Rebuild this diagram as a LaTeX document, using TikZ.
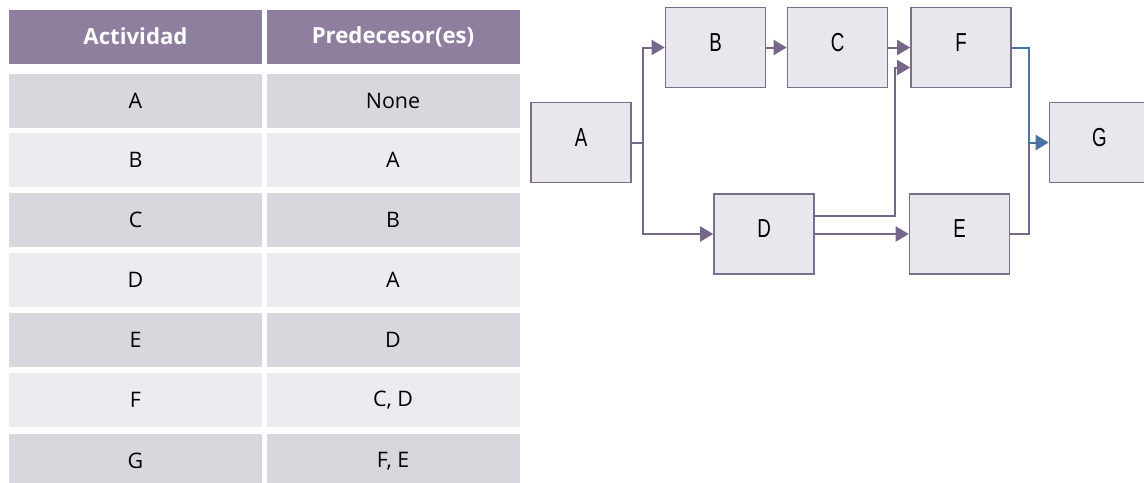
\documentclass[tikz,border=0pt]{standalone}
\usepackage{fontspec}
\setmainfont{Open Sans}
\newfontfamily\actfont[FakeStretch=0.72]{Liberation Sans}
\usetikzlibrary{arrows.meta}
\definecolor{headfill}{HTML}{8E7F9E}
\definecolor{rowdark}{HTML}{DAD6DE}
\definecolor{rowlight}{HTML}{ECEBEF}
\definecolor{boxfill}{HTML}{E9E7EE}
\definecolor{boxline}{HTML}{7B6E8C}
\definecolor{linkcol}{HTML}{75668A}
\definecolor{linkblue}{HTML}{4A72A2}
\begin{document}
\begin{tikzpicture}[x=0.5pt,y=-0.5pt,
  cell/.style={inner sep=0pt,minimum width=126.5pt,minimum height=27pt,font=\fontsize{10.7}{12}\selectfont},
  head/.style={cell,fill=headfill,text=white,font=\fontsize{11.1}{13}\selectfont\bfseries},
  act/.style={draw=boxline,line width=0.8pt,fill=boxfill,inner sep=0pt,minimum width=50pt,minimum height=40pt,
    text height=10pt,text depth=6.5pt,font=\actfont\fontsize{13}{15}\selectfont},
  link/.style={draw=linkcol,line width=1pt,-{Triangle[length=6.5pt,width=7.5pt]}},
  plain/.style={draw=linkcol,line width=1pt}]
\useasboundingbox (0,0) rectangle (1144,482);
% table of activities
\node[head] (h1) at (135.5,36.5) {Actividad};
\node[head] (h2) at (393,36.5) {Predecesor(es)};
\foreach \a/\p/\y/\c in {A/None/101/rowdark,B/A/160/rowlight,C/B/220/rowdark,D/A/280/rowlight,
                         E/D/340/rowdark,F/{C, D}/400/rowlight,G/{F, E}/461/rowdark}{
  \node[cell,fill=\c] (act-\a) at (135.5,\y) {\a};
  \node[cell,fill=\c] (pre-\a) at (393,\y) {\p};
}
% network
\node[act] (A) at (581,142.5) {A};
\node[act] (B) at (715.5,47.5) {B};
\node[act] (C) at (837.5,47.5) {C};
\node[act] (F) at (961,47.5) {F};
\node[act] (D) at (764,234) {D};
\node[act] (E) at (959.5,234) {E};
\node[act] (G) at (1099.5,142.5) {G};
\draw[link] (A.east) -- ++(11,0) coordinate (split) |- (B.west);
\draw[link] (split) |- (D.west);
\draw[link] (B) -- (C);
\draw[link] (C) -- (F);
\draw[link] ([yshift=9pt]D.east) -| ([xshift=-7.5pt,yshift=-10pt]F.west) -- ([yshift=-10pt]F.west);
\draw[link] (D) -- (E);
\coordinate (merge) at (1029,142.5);
\draw[plain] (E.east) -| (merge);
\draw[link,draw=linkblue] (F.east) -| (merge) -- (G.west);
\end{tikzpicture}
\end{document}
